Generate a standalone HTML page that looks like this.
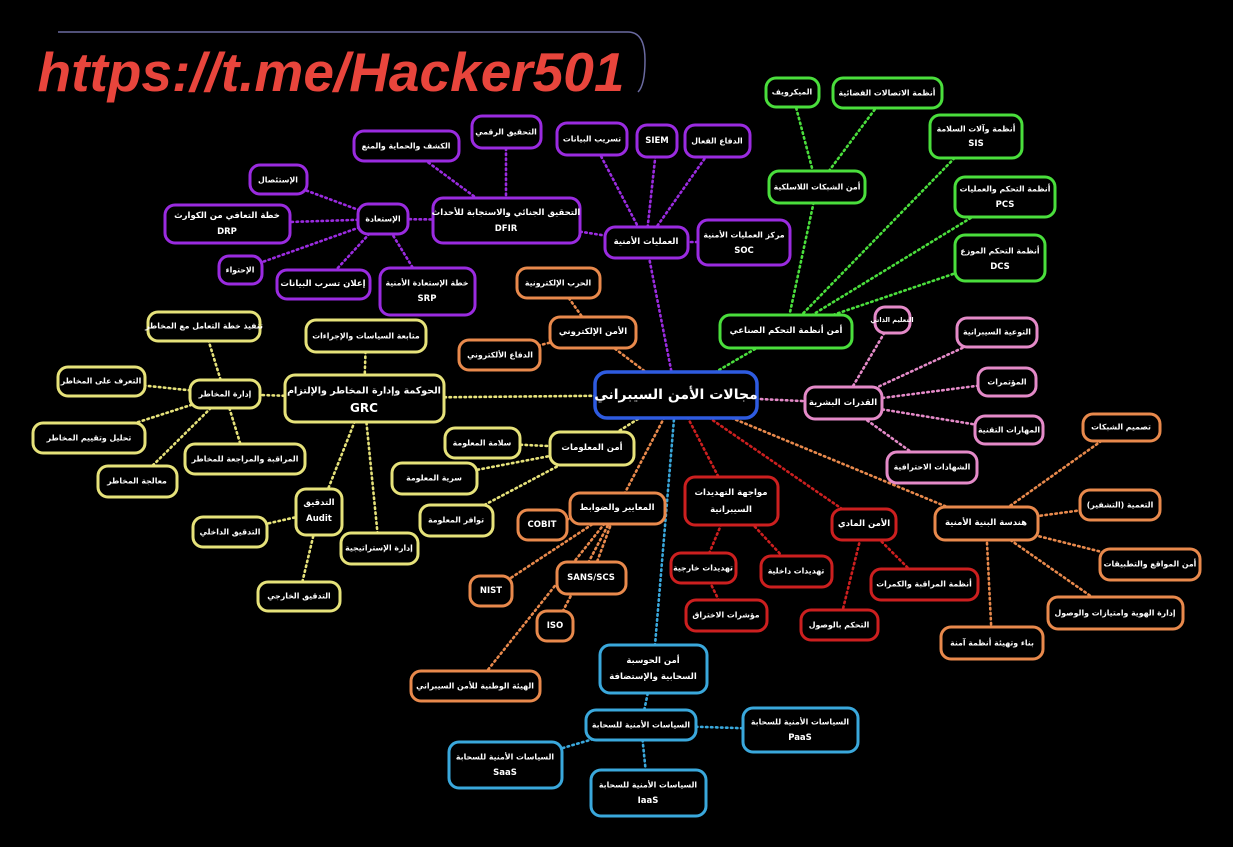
<!DOCTYPE html>
<html><head><meta charset="utf-8"><style>
html,body{margin:0;padding:0;background:#000;width:1233px;height:847px;overflow:hidden}
svg{display:block}
text{font-family:"DejaVu Sans","Liberation Sans",sans-serif;font-weight:bold;fill:#fff;font-size:8.5px;text-anchor:middle;dominant-baseline:central}
rect{fill:#000;stroke-width:3}
line{stroke-width:2.6;stroke-dasharray:1.5 3.5;stroke-linecap:round}
.s{font-size:7.8px}
.P rect{stroke:#9a2be0}.P line{stroke:#9a2be0}
.G rect{stroke:#4ade3c}.G line{stroke:#4ade3c}
.K rect{stroke:#e48ac8}.K line{stroke:#e48ac8}
.O rect{stroke:#e8894c}.O line{stroke:#e8894c}
.Y rect{stroke:#e6e27a}.Y line{stroke:#e6e27a}
.R rect{stroke:#cc1f1f}.R line{stroke:#cc1f1f}
.B rect{stroke:#3aa8dc}.B line{stroke:#3aa8dc}
</style></head><body>
<svg width="1233" height="847" viewBox="0 0 1233 847">
<path d="M58 32 H628 Q645 32 645 60 Q645 85 638 92" fill="none" stroke="#6a6aa0" stroke-width="1.5"/>
<text x="331" y="72" style="font-family:'Liberation Sans',sans-serif;font-style:italic;font-size:55px;fill:#e8453c;font-weight:bold">https://t.me/Hacker501</text>

<g class="P"><line x1="676" y1="395" x2="646" y2="242"/><line x1="646" y1="242" x2="744" y2="242"/><line x1="646" y1="242" x2="717" y2="141"/><line x1="646" y1="242" x2="657" y2="141"/><line x1="646" y1="242" x2="592" y2="139"/><line x1="646" y1="242" x2="506" y2="220"/><line x1="506" y1="220" x2="506" y2="132"/><line x1="506" y1="220" x2="406" y2="146"/><line x1="506" y1="220" x2="383" y2="219"/><line x1="383" y1="219" x2="278" y2="180"/><line x1="383" y1="219" x2="227" y2="224"/><line x1="383" y1="219" x2="240" y2="270"/><line x1="383" y1="219" x2="323" y2="284"/><line x1="383" y1="219" x2="427" y2="291"/></g>
<g class="G"><line x1="676" y1="395" x2="786" y2="331"/><line x1="786" y1="331" x2="817" y2="187"/><line x1="817" y1="187" x2="792" y2="92"/><line x1="817" y1="187" x2="887" y2="93"/><line x1="786" y1="331" x2="976" y2="136"/><line x1="786" y1="331" x2="1005" y2="197"/><line x1="786" y1="331" x2="1000" y2="258"/></g>
<g class="K"><line x1="676" y1="395" x2="843" y2="403"/><line x1="843" y1="403" x2="892" y2="320"/><line x1="843" y1="403" x2="997" y2="332"/><line x1="843" y1="403" x2="1007" y2="382"/><line x1="843" y1="403" x2="1009" y2="430"/><line x1="843" y1="403" x2="932" y2="467"/></g>
<g class="O"><line x1="676" y1="395" x2="593" y2="332"/><line x1="593" y1="332" x2="558" y2="283"/><line x1="593" y1="332" x2="500" y2="355"/><line x1="676" y1="395" x2="986" y2="523"/><line x1="986" y1="523" x2="1121" y2="427"/><line x1="986" y1="523" x2="1120" y2="505"/><line x1="986" y1="523" x2="1150" y2="564"/><line x1="986" y1="523" x2="1115" y2="613"/><line x1="986" y1="523" x2="992" y2="643"/><line x1="676" y1="395" x2="617" y2="508"/><line x1="617" y1="508" x2="542" y2="525"/><line x1="617" y1="508" x2="591" y2="578"/><line x1="617" y1="508" x2="491" y2="591"/><line x1="617" y1="508" x2="555" y2="626"/><line x1="617" y1="508" x2="475" y2="686"/></g>
<g class="Y"><line x1="676" y1="395" x2="364" y2="398"/><line x1="364" y1="398" x2="366" y2="336"/><line x1="364" y1="398" x2="225" y2="394"/><line x1="364" y1="398" x2="319" y2="512"/><line x1="364" y1="398" x2="379" y2="548"/><line x1="225" y1="394" x2="204" y2="326"/><line x1="225" y1="394" x2="101" y2="381"/><line x1="225" y1="394" x2="89" y2="438"/><line x1="225" y1="394" x2="245" y2="459"/><line x1="225" y1="394" x2="137" y2="481"/><line x1="319" y1="512" x2="230" y2="532"/><line x1="319" y1="512" x2="299" y2="596"/><line x1="676" y1="395" x2="592" y2="448"/><line x1="592" y1="448" x2="482" y2="443"/><line x1="592" y1="448" x2="434" y2="478"/><line x1="592" y1="448" x2="456" y2="520"/></g>
<g class="R"><line x1="676" y1="395" x2="731" y2="501"/><line x1="731" y1="501" x2="703" y2="568"/><line x1="731" y1="501" x2="796" y2="571"/><line x1="703" y1="568" x2="726" y2="615"/><line x1="676" y1="395" x2="864" y2="524"/><line x1="864" y1="524" x2="924" y2="584"/><line x1="864" y1="524" x2="839" y2="625"/></g>
<g class="B"><line x1="676" y1="395" x2="653" y2="669"/><line x1="653" y1="669" x2="641" y2="725"/><line x1="641" y1="725" x2="800" y2="730"/><line x1="641" y1="725" x2="505" y2="765"/><line x1="641" y1="725" x2="648" y2="793"/></g>

<g class="P">
<rect x="605" y="227" width="83" height="31" rx="10"/><text x="646" y="242">العمليات الأمنية</text>
<rect x="698" y="220" width="92" height="45" rx="10"/><text x="744" y="235" class="s">مركز العمليات الأمنية</text><text x="744" y="251">SOC</text>
<rect x="685" y="125" width="65" height="32" rx="10"/><text x="717" y="141" class="s">الدفاع الفعال</text>
<rect x="637" y="125" width="40" height="32" rx="10"/><text x="657" y="141">SIEM</text>
<rect x="557" y="123" width="70" height="32" rx="10"/><text x="592" y="139" class="s">تسريب البيانات</text>
<rect x="472" y="116" width="69" height="32" rx="10"/><text x="506" y="132" class="s">التحقيق الرقمي</text>
<rect x="354" y="131" width="105" height="30" rx="10"/><text x="406" y="146" class="s">الكشف والحماية والمنع</text>
<rect x="433" y="198" width="147" height="45" rx="10"/><text x="506" y="213">التحقيق الجنائي والاستجابة للأحداث</text><text x="506" y="229">DFIR</text>
<rect x="358" y="204" width="50" height="30" rx="10"/><text x="383" y="219" class="s">الإستعادة</text>
<rect x="250" y="165" width="57" height="29" rx="10"/><text x="278" y="180" class="s">الإستئصال</text>
<rect x="165" y="205" width="125" height="38" rx="10"/><text x="227" y="216">خطة التعافي من الكوارث</text><text x="227" y="232">DRP</text>
<rect x="219" y="256" width="43" height="28" rx="10"/><text x="240" y="270" class="s">الإحتواء</text>
<rect x="277" y="270" width="93" height="29" rx="10"/><text x="323" y="284">إعلان تسرب البيانات</text>
<rect x="380" y="268" width="95" height="47" rx="10"/><text x="427" y="283" class="s">خطة الإستعادة الأمنية</text><text x="427" y="299">SRP</text>
</g>
<g class="G">
<rect x="766" y="78" width="53" height="29" rx="10"/><text x="792" y="92" class="s">الميكرويف</text>
<rect x="833" y="78" width="109" height="30" rx="10"/><text x="887" y="93" class="s">أنظمة الاتصالات الفضائية</text>
<rect x="930" y="115" width="92" height="43" rx="10"/><text x="976" y="129" class="s">أنظمة وآلات السلامة</text><text x="976" y="144">SIS</text>
<rect x="769" y="171" width="96" height="32" rx="10"/><text x="817" y="187" class="s">أمن الشبكات اللاسلكية</text>
<rect x="955" y="177" width="100" height="40" rx="10"/><text x="1005" y="189" class="s">أنظمة التحكم والعمليات</text><text x="1005" y="205">PCS</text>
<rect x="955" y="235" width="90" height="46" rx="10"/><text x="1000" y="251" class="s">أنظمة التحكم الموزع</text><text x="1000" y="267">DCS</text>
<rect x="720" y="315" width="132" height="33" rx="10"/><text x="786" y="331">أمن أنظمة التحكم الصناعي</text>
</g>
<g class="K">
<rect x="875" y="307" width="35" height="26" rx="10"/><text x="892" y="320" style="font-size:6.5px">التعليم الذاتي</text>
<rect x="957" y="318" width="80" height="29" rx="10"/><text x="997" y="332" class="s">التوعية السيبرانية</text>
<rect x="978" y="368" width="58" height="28" rx="10"/><text x="1007" y="382" class="s">المؤتمرات</text>
<rect x="975" y="416" width="68" height="28" rx="10"/><text x="1009" y="430" class="s">المهارات التقنية</text>
<rect x="887" y="452" width="90" height="31" rx="10"/><text x="932" y="467" class="s">الشهادات الاحترافية</text>
<rect x="805" y="387" width="77" height="32" rx="10"/><text x="843" y="403">القدرات البشرية</text>
</g>
<g class="O">
<rect x="517" y="268" width="83" height="30" rx="10"/><text x="558" y="283" class="s">الحرب الإلكترونية</text>
<rect x="550" y="317" width="86" height="31" rx="10"/><text x="593" y="332">الأمن الإلكتروني</text>
<rect x="459" y="340" width="81" height="30" rx="10"/><text x="500" y="355" class="s">الدفاع الألكتروني</text>
<rect x="935" y="507" width="103" height="33" rx="10"/><text x="986" y="523">هندسة البنية الأمنية</text>
<rect x="1083" y="414" width="77" height="27" rx="10"/><text x="1121" y="427" class="s">تصميم الشبكات</text>
<rect x="1080" y="490" width="80" height="30" rx="10"/><text x="1120" y="505" class="s">التعمية (التشفير)</text>
<rect x="1100" y="549" width="100" height="31" rx="10"/><text x="1150" y="564" class="s">أمن المواقع والتطبيقات</text>
<rect x="1048" y="597" width="135" height="32" rx="10"/><text x="1115" y="613" class="s">إدارة الهوية وامتيازات والوصول</text>
<rect x="941" y="627" width="102" height="32" rx="10"/><text x="992" y="643" class="s">بناء وتهيئة أنظمة آمنة</text>
<rect x="570" y="493" width="95" height="31" rx="10"/><text x="617" y="508">المعايير والضوابط</text>
<rect x="518" y="510" width="49" height="30" rx="10"/><text x="542" y="525">COBIT</text>
<rect x="557" y="562" width="69" height="32" rx="10"/><text x="591" y="578">SANS/SCS</text>
<rect x="470" y="576" width="42" height="30" rx="10"/><text x="491" y="591">NIST</text>
<rect x="537" y="611" width="36" height="30" rx="10"/><text x="555" y="626">ISO</text>
<rect x="411" y="671" width="129" height="30" rx="10"/><text x="475" y="686" class="s">الهيئة الوطنية للأمن السيبراني</text>
</g>
<g class="Y">
<rect x="285" y="375" width="159" height="47" rx="10"/><text x="364" y="391" style="font-size:9.5px">الحوكمة وإدارة المخاطر والإلتزام</text><text x="364" y="408" style="font-size:12px">GRC</text>
<rect x="306" y="320" width="120" height="32" rx="10"/><text x="366" y="336" class="s">متابعة السياسات والإجراءات</text>
<rect x="190" y="380" width="70" height="28" rx="10"/><text x="225" y="394" class="s">إدارة المخاطر</text>
<rect x="148" y="312" width="112" height="29" rx="10"/><text x="204" y="326" class="s">تنفيذ خطة التعامل مع المخاطر</text>
<rect x="58" y="367" width="87" height="29" rx="10"/><text x="101" y="381" class="s">التعرف على المخاطر</text>
<rect x="33" y="423" width="112" height="30" rx="10"/><text x="89" y="438" class="s">تحليل وتقييم المخاطر</text>
<rect x="185" y="444" width="120" height="30" rx="10"/><text x="245" y="459" class="s">المراقبة والمراجعة للمخاطر</text>
<rect x="98" y="466" width="79" height="31" rx="10"/><text x="137" y="481" class="s">معالجة المخاطر</text>
<rect x="296" y="489" width="46" height="46" rx="10"/><text x="319" y="503">التدقيق</text><text x="319" y="519">Audit</text>
<rect x="193" y="517" width="74" height="30" rx="10"/><text x="230" y="532" class="s">التدقيق الداخلي</text>
<rect x="258" y="582" width="82" height="29" rx="10"/><text x="299" y="596" class="s">التدقيق الخارجي</text>
<rect x="341" y="533" width="77" height="31" rx="10"/><text x="379" y="548" class="s">إدارة الإستراتيجية</text>
<rect x="550" y="432" width="84" height="33" rx="10"/><text x="592" y="448">أمن المعلومات</text>
<rect x="445" y="428" width="75" height="30" rx="10"/><text x="482" y="443" class="s">سلامة المعلومة</text>
<rect x="392" y="463" width="85" height="31" rx="10"/><text x="434" y="478" class="s">سرية المعلومة</text>
<rect x="420" y="505" width="73" height="31" rx="10"/><text x="456" y="520" class="s">توافر المعلومة</text>
</g>
<g class="R">
<rect x="685" y="477" width="93" height="48" rx="10"/><text x="731" y="493">مواجهة التهديدات</text><text x="731" y="510">السيبرانية</text>
<rect x="832" y="509" width="64" height="31" rx="10"/><text x="864" y="524">الأمن المادي</text>
<rect x="671" y="553" width="65" height="30" rx="10"/><text x="703" y="568" class="s">تهديدات خارجية</text>
<rect x="761" y="556" width="71" height="31" rx="10"/><text x="796" y="571" class="s">تهديدات داخلية</text>
<rect x="686" y="600" width="81" height="31" rx="10"/><text x="726" y="615" class="s">مؤشرات الاختراق</text>
<rect x="871" y="569" width="107" height="31" rx="10"/><text x="924" y="584" class="s">أنظمة المراقبة والكمرات</text>
<rect x="801" y="610" width="77" height="30" rx="10"/><text x="839" y="625" class="s">التحكم بالوصول</text>
</g>
<g class="B">
<rect x="600" y="645" width="107" height="48" rx="10"/><text x="653" y="661">أمن الحوسبة</text><text x="653" y="677">السحابية والإستضافة</text>
<rect x="586" y="710" width="110" height="30" rx="10"/><text x="641" y="725" class="s">السياسات الأمنية للسحابة</text>
<rect x="743" y="708" width="115" height="44" rx="10"/><text x="800" y="722" class="s">السياسات الأمنية للسحابة</text><text x="800" y="738">PaaS</text>
<rect x="449" y="742" width="113" height="46" rx="10"/><text x="505" y="757" class="s">السياسات الأمنية للسحابة</text><text x="505" y="773">SaaS</text>
<rect x="591" y="770" width="115" height="46" rx="10"/><text x="648" y="785" class="s">السياسات الأمنية للسحابة</text><text x="648" y="801">IaaS</text>
</g>
<rect x="595" y="372" width="162" height="46" rx="12" style="stroke:#2e5be0;stroke-width:3.5"/><text x="676" y="395" style="font-size:14px">مجالات الأمن السيبراني</text>
</svg>
</body></html>
